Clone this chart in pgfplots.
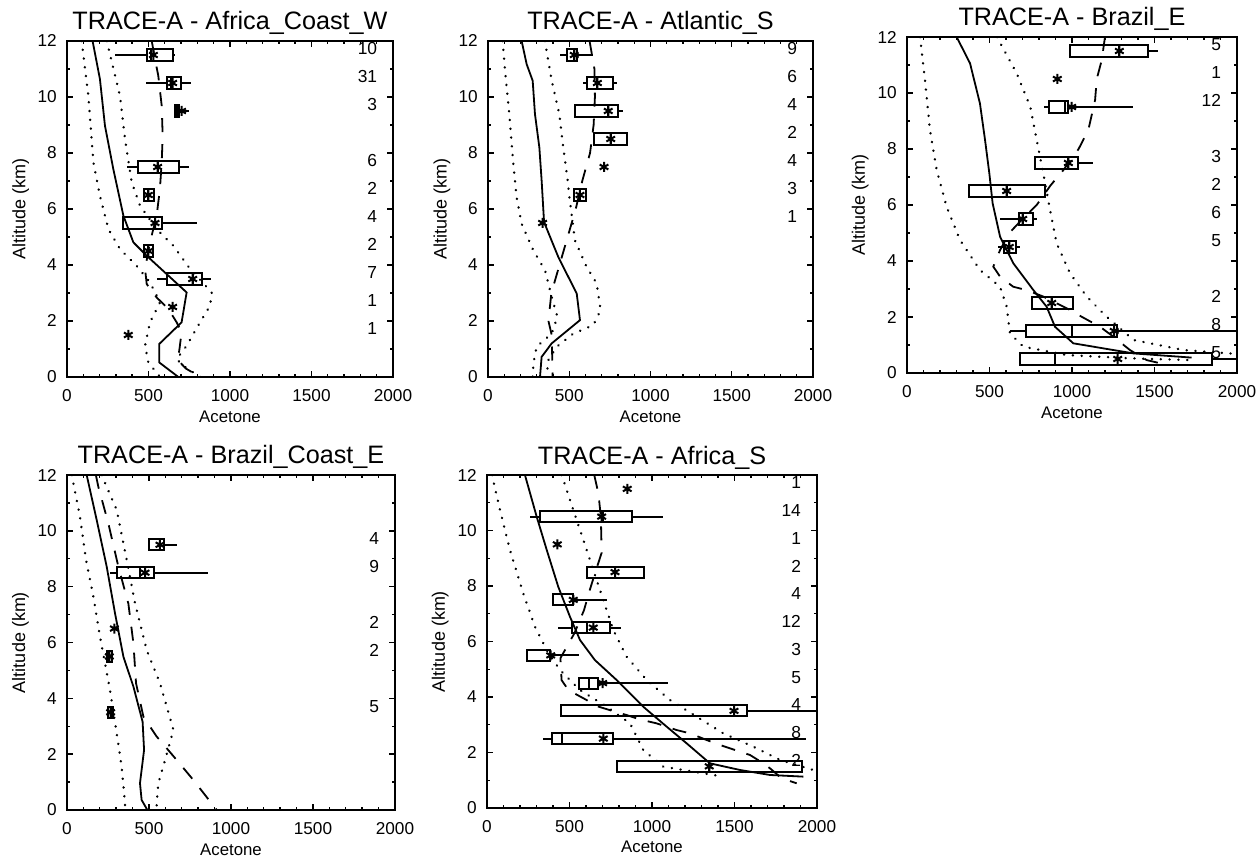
\documentclass[border=0pt]{standalone}
\usepackage{fontspec}
\setmainfont{Liberation Sans}
\usepackage{pgfplots}
\usepgfplotslibrary{statistics}
\pgfplotsset{compat=1.18}

\pgfplotsset{
  panel/.style={
    scale only axis, width=164pt, height=168pt,
    xmin=0, xmax=2000, ymin=0, ymax=12,
    xtick={0,500,...,2000}, ytick={0,2,...,12},
    minor x tick num=4, minor y tick num=1,
    tick align=inside, tick pos=both,
    major tick length=3pt, minor tick length=1.6pt,
    axis line style={line width=0.9pt},
    tick style={black, line width=0.7pt},
    /pgf/number format/assume math mode=true,
    /pgf/number format/1000 sep={},
    tick label style={font=\fontsize{8.6}{10}\selectfont},
    xticklabel style={yshift=-2.6pt},
    yticklabel style={xshift=-1.6pt},
    xlabel={Acetone}, ylabel={Altitude (km)},
    xlabel style={font=\fontsize{8.4}{10}\selectfont, at={(axis description cs:0.5,-0.118)}, anchor=center},
    ylabel style={font=\fontsize{9}{10}\selectfont, at={(axis description cs:-0.142,0.5)}, anchor=center},
    title style={font=\fontsize{12.6}{14}\selectfont, at={(axis description cs:0.5,1.033)}, anchor=base, yshift=-6pt},
    boxplot/draw direction=x,
    boxplot/box extend=0.4,
    boxplot/whisker extend=0,
    boxplot/every average/.style={/tikz/mark=asterisk,/tikz/mark size=2.5pt},
  },
  model/.style={black, line width=0.9pt, no markers},
  dotline/.style={black, line width=1.25pt, dash pattern=on 0.1pt off 4.3pt, line cap=round, no markers},
  dashline/.style={black, line width=0.9pt, dash pattern=on 7pt off 6pt, no markers},
  bx/.style={black, line width=1pt, solid, boxplot prepared={#1}},
  avg/.style={black, only marks, mark=asterisk, mark size=2.5pt, mark options={line width=1pt}},
}
\newcommand\cnt[2]{\node[anchor=base east, inner sep=0pt, font=\fontsize{8.7}{10}\selectfont] at (axis cs:1905,#1) {#2};}

\begin{document}
\begin{tikzpicture}
\path[use as bounding box] (0,0) rectangle (630pt,428.5pt);

% ---------- Africa_Coast_W
\begin{axis}[panel, at={(33.5pt,240pt)}, anchor=south west, width=163pt,
  title={TRACE-A - Africa\_Coast\_W}]
\addplot[model] coordinates {(157,12)(202,10.64)(233,8.97)(284,7.43)(346,5.76)(407,4.81)(489,4.33)(734,3.02)(703,1.95)(566,1.18)(566,0.52)(683,0)};
\addplot[dotline] coordinates {(90,12)(131,10.04)(162,7.66)(202,6.47)(254,5.28)(325,4.57)(427,3.97)(509,3.38)(571,2.67)(509,1.95)(479,1.12)(499,0.52)(571,0)};
\addplot[dotline] coordinates {(244,12)(325,10.04)(356,8.5)(397,6.95)(448,6.12)(550,5.28)(652,4.69)(755,3.86)(888,3.02)(878,2.55)(816,1.95)(734,1.12)(673,0.64)(714,0.4)(816,0)};
\addplot[dashline] coordinates {(520,12)(540,11.35)(560,10.76)(581,9.69)(587,8.6)(581,7.66)(570,6.71)(550,5.76)(509,4.81)(479,3.86)(489,3.32)(550,2.84)(622,2.43)(673,1.95)(703,1.6)(690,1.0)(680,0.6)(730,0.3)(816,0)};
\addplot[bx={lower whisker=295, lower quartile=490, median=515, upper quartile=650, upper whisker=660, average=530, draw position=11.5}] coordinates {};
\addplot[bx={lower whisker=485, lower quartile=611, median=640, upper quartile=697, upper whisker=759, average=648, draw position=10.5}] coordinates {};
\addplot[bx={lower whisker=662, lower quartile=662, median=675, upper quartile=689, upper whisker=750, average=703, draw position=9.5}] coordinates {};
\addplot[bx={lower whisker=366, lower quartile=437, median=560, upper quartile=685, upper whisker=750, average=556, draw position=7.5}] coordinates {};
\addplot[bx={lower whisker=474, lower quartile=474, median=499, upper quartile=534, upper whisker=534, average=499, draw position=6.5}] coordinates {};
\addplot[bx={lower whisker=346, lower quartile=346, median=540, upper quartile=583, upper whisker=795, average=540, draw position=5.5}] coordinates {};
\addplot[bx={lower whisker=472, lower quartile=472, median=500, upper quartile=530, upper whisker=530, average=500, draw position=4.5}] coordinates {};
\addplot[bx={lower whisker=554, lower quartile=616, median=770, upper quartile=828, upper whisker=881, average=771, draw position=3.5}] coordinates {};
\addplot[avg] coordinates {(648,2.5)(376,1.5)};
\cnt{11.5}{10}\cnt{10.5}{31}\cnt{9.5}{3}\cnt{7.5}{6}\cnt{6.5}{2}
\cnt{5.5}{4}\cnt{4.5}{2}\cnt{3.5}{7}\cnt{2.5}{1}\cnt{1.5}{1}
\end{axis}

% ---------- Atlantic_S
\begin{axis}[panel, at={(244pt,240pt)}, anchor=south west, width=162.5pt,
  title={TRACE-A - Atlantic\_S}]
\addplot[model] coordinates {(207,12)(238,11.17)(275,10.58)(289,9.39)(316,8.2)(330,7.02)(345,5.53)(433,4.28)(546,2.98)(566,2.03)(392,1.2)(330,0.72)(320,0)};
\addplot[dotline] coordinates {(90,12)(105,10.93)(131,9.39)(156,7.6)(176,6.42)(207,5.47)(279,4.52)(351,3.81)(392,2.86)(427,2.15)(392,1.55)(299,1.08)(280,0.5)(275,0)};
\addplot[dotline] coordinates {(350,12)(392,10.58)(439,9.39)(463,8.2)(488,7.13)(501,6.42)(535,4.88)(607,3.93)(669,3.34)(693,2.39)(648,1.85)(525,1.55)(423,1.08)(371,0.6)(361,0)};
\addplot[dashline] coordinates {(625,12)(655,11)(658,10)(650,9)(628,8)(580,7)(540,6)(490,5)(440,4)(390,3)(372,2)(392,1.5)(398,0)};
\addplot[bx={lower whisker=443, lower quartile=488, median=531, upper quartile=545, upper whisker=648, average=531, draw position=11.5}] coordinates {};
\addplot[bx={lower whisker=582, lower quartile=611, median=673, upper quartile=771, upper whisker=796, average=673, draw position=10.5}] coordinates {};
\addplot[bx={lower whisker=535, lower quartile=535, median=740, upper quartile=802, upper whisker=829, average=740, draw position=9.5}] coordinates {};
\addplot[bx={lower whisker=654, lower quartile=654, median=755, upper quartile=853, upper whisker=853, average=755, draw position=8.5}] coordinates {};
\addplot[bx={lower whisker=529, lower quartile=529, median=566, upper quartile=603, upper whisker=603, average=566, draw position=6.5}] coordinates {};
\addplot[avg] coordinates {(714,7.5)(336,5.5)};
\cnt{11.5}{9}\cnt{10.5}{6}\cnt{9.5}{4}\cnt{8.5}{2}\cnt{7.5}{4}\cnt{6.5}{3}\cnt{5.5}{1}
\end{axis}

% ---------- Brazil_E
\begin{axis}[panel, at={(453.5pt,242pt)}, anchor=south west, width=165pt,
  title={TRACE-A - Brazil\_E}]
\addplot[model] coordinates {(301,12)(382,11.06)(442,9.63)(473,8.32)(499,7.13)(519,6.06)(564,4.87)(644,3.92)(766,2.96)(846,2.37)(897,1.65)(1008,1.06)(1372,0.7)(1725,0.55)};
\addplot[dotline] coordinates {(79,12)(109,10.46)(139,8.68)(180,7.25)(240,5.94)(321,4.75)(442,3.68)(564,3.08)(604,2.37)(624,1.42)(705,0.94)(968,0.64)(1372,0.52)(1725,0.46)};
\addplot[dotline] coordinates {(545,12)(665,10.7)(747,9.51)(786,8.32)(826,7.13)(867,5.82)(907,4.63)(988,3.56)(1089,2.73)(1210,2.01)(1372,1.18)(1675,0.82)(2000,0.68)};
\addplot[dashline] coordinates {(1200,12)(1180,11.17)(1150,10.5)(1140,9.75)(1099,8.68)(1040,8.0)(948,7.25)(870,6.7)(786,6.0)(700,5.5)(620,5.0)(564,4.39)(523,3.8)(564,3.44)(644,3.08)(725,2.96)(826,2.73)(988,2.25)(1058,2.01)(1170,1.65)(1250,1.3)(1351,0.82)(1453,0.46)(1533,0.35)};
\addplot[bx={lower whisker=988, lower quartile=988, median=1287, upper quartile=1462, upper whisker=1523, average=1287, draw position=11.5}] coordinates {};
\addplot[bx={lower whisker=832, lower quartile=858, median=960, upper quartile=978, upper whisker=1372, average=998, draw position=9.5}] coordinates {};
\addplot[bx={lower whisker=776, lower quartile=776, median=978, upper quartile=1038, upper whisker=1125, average=978, draw position=7.5}] coordinates {};
\addplot[bx={lower whisker=378, lower quartile=378, median=604, upper quartile=836, upper whisker=836, average=604, draw position=6.5}] coordinates {};
\addplot[bx={lower whisker=564, lower quartile=679, median=701, upper quartile=766, upper whisker=790, average=701, draw position=5.5}] coordinates {};
\addplot[bx={lower whisker=553, lower quartile=588, median=620, upper quartile=658, upper whisker=685, average=620, draw position=4.5}] coordinates {};
\addplot[bx={lower whisker=760, lower quartile=760, median=877, upper quartile=1004, upper whisker=1004, average=877, draw position=2.5}] coordinates {};
\addplot[bx={lower whisker=624, lower quartile=721, median=998, upper quartile=1275, upper whisker=2100, average=1256, draw position=1.5}] coordinates {};
\addplot[bx={lower whisker=685, lower quartile=685, median=897, upper quartile=1850, upper whisker=2100, average=1277, draw position=0.5}] coordinates {};
\addplot[avg] coordinates {(911,10.5)};
\cnt{11.5}{5}\cnt{10.5}{1}\cnt{9.5}{12}\cnt{7.5}{3}\cnt{6.5}{2}
\cnt{5.5}{6}\cnt{4.5}{5}\cnt{2.5}{2}\cnt{1.5}{8}\cnt{0.5}{5}
\end{axis}

% ---------- Brazil_Coast_E
\begin{axis}[panel, at={(33.5pt,23.5pt)}, anchor=south west, width=164pt, height=167.5pt,
  title={TRACE-A - Brazil\_Coast\_E}]
\addplot[model] coordinates {(120,12)(181,10.39)(242,8.72)(293,7.04)(344,5.49)(405,4.42)(461,3.16)(470,2.15)(445,0.96)(455,0.36)(490,0)};
\addplot[dotline] coordinates {(29,12)(79,10.51)(116,8.96)(161,7.64)(201,6.21)(232,5.25)(262,4.3)(303,2.75)(333,1.55)(354,0.24)(354,0)};
\addplot[dotline] coordinates {(211,12)(303,10.75)(364,8.96)(415,7.4)(486,5.73)(567,4.54)(649,2.87)(598,1.79)(557,0.96)(547,0.24)(547,0)};
\addplot[dashline] coordinates {(176,12)(191,11.58)(252,10.27)(313,8.72)(374,7.4)(405,5.97)(421,4.54)(466,3.34)(547,2.63)(669,1.79)(771,1.07)(913,0)};
\addplot[bx={lower whisker=502, lower quartile=502, median=567, upper quartile=592, upper whisker=669, average=567, draw position=9.5}] coordinates {};
\addplot[bx={lower whisker=262, lower quartile=307, median=445, upper quartile=531, upper whisker=858, average=476, draw position=8.5}] coordinates {};
\addplot[bx={lower whisker=245, lower quartile=245, median=258, upper quartile=272, upper whisker=272, average=258, draw position=5.5}] coordinates {};
\addplot[bx={lower whisker=250, lower quartile=250, median=266, upper quartile=282, upper whisker=282, average=266, draw position=3.5}] coordinates {};
\addplot[avg] coordinates {(289,6.5)};
\cnt{9.5}{4}\cnt{8.5}{9}\cnt{6.5}{2}\cnt{5.5}{2}\cnt{3.5}{5}
\end{axis}

% ---------- Africa_S
\begin{axis}[panel, at={(243.5pt,24.5pt)}, anchor=south west, width=165pt, height=166.5pt,
  title={TRACE-A - Africa\_S}]
\addplot[model] coordinates {(230,12)(301,10.5)(362,9.3)(432,7.97)(503,6.89)(564,6.05)(654,5.33)(786,4.61)(947,3.65)(1089,2.93)(1210,2.33)(1351,1.61)(1533,1.37)(1715,1.19)(1917,1.13)};
\addplot[dotline] coordinates {(30,12)(79,10.74)(139,9.3)(220,7.73)(291,6.53)(362,5.69)(442,4.97)(564,4.25)(725,3.65)(867,3.05)(947,2.09)(1069,1.49)(1432,1.13)};
\addplot[dotline] coordinates {(450,12)(463,11.82)(523,10.74)(584,9.66)(644,8.58)(705,7.49)(766,6.41)(846,5.45)(968,4.61)(1109,3.89)(1271,3.29)(1432,2.69)(1614,2.21)(1776,1.73)(1978,1.37)};
\addplot[dashline] coordinates {(650,12)(675,11.34)(690,10.5)(695,9.2)(654,8.45)(620,7.8)(588,7.13)(530,6.3)(445,5.4)(452,4.61)(493,4.25)(604,3.89)(644,3.71)(776,3.47)(846,3.35)(927,3.19)(1028,3.05)(1149,2.81)(1230,2.69)(1331,2.45)(1412,2.27)(1533,2.03)(1594,1.91)(1675,1.61)(1715,1.43)(1786,1.07)(1877,0.89)};
\addplot[bx={lower whisker=261, lower quartile=321, median=701, upper quartile=881, upper whisker=1065, average=695, draw position=10.5}] coordinates {};
\addplot[bx={lower whisker=608, lower quartile=608, median=776, upper quartile=951, upper whisker=951, average=776, draw position=8.5}] coordinates {};
\addplot[bx={lower whisker=402, lower quartile=402, median=523, upper quartile=523, upper whisker=725, average=523, draw position=7.5}] coordinates {};
\addplot[bx={lower whisker=432, lower quartile=513, median=608, upper quartile=745, upper whisker=810, average=644, draw position=6.5}] coordinates {};
\addplot[bx={lower whisker=240, lower quartile=240, median=382, upper quartile=382, upper whisker=560, average=386, draw position=5.5}] coordinates {};
\addplot[bx={lower whisker=560, lower quartile=560, median=620, upper quartile=675, upper whisker=1095, average=701, draw position=4.5}] coordinates {};
\addplot[bx={lower whisker=446, lower quartile=446, median=1497, upper quartile=1574, upper whisker=2100, average=1497, draw position=3.5}] coordinates {};
\addplot[bx={lower whisker=341, lower quartile=392, median=452, upper quartile=766, upper whisker=1933, average=705, draw position=2.5}] coordinates {};
\addplot[bx={lower whisker=786, lower quartile=786, median=1347, upper quartile=1907, upper whisker=1907, average=1347, draw position=1.5}] coordinates {};
\addplot[avg] coordinates {(850,11.5)(426,9.5)};
\cnt{11.5}{1}\cnt{10.5}{14}\cnt{9.5}{1}\cnt{8.5}{2}\cnt{7.5}{4}\cnt{6.5}{12}
\cnt{5.5}{3}\cnt{4.5}{5}\cnt{3.5}{4}\cnt{2.5}{8}\cnt{1.5}{2}
\end{axis}
\end{tikzpicture}
\end{document}
